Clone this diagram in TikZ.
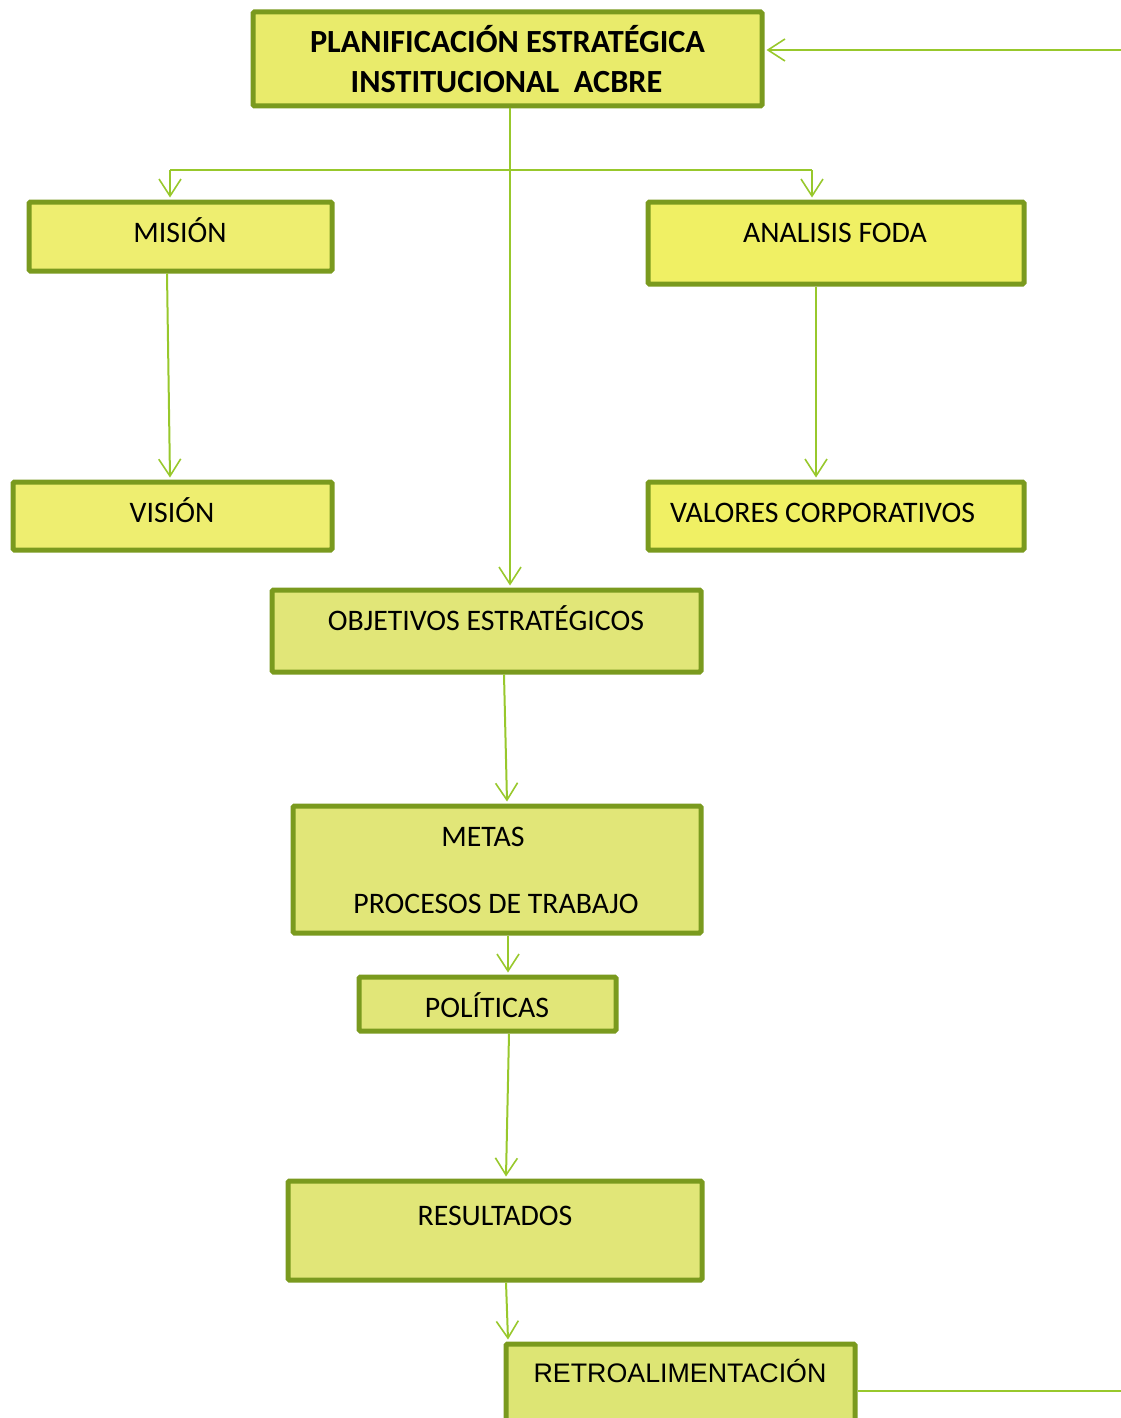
\documentclass[tikz,border=0pt]{standalone}
\usepackage{fontspec}
\setmainfont{Carlito}
\newfontfamily\arialfont{Liberation Sans}
\usetikzlibrary{arrows.meta,calc}
\definecolor{bordergreen}{RGB}{122,154,30}
\definecolor{linegreen}{RGB}{152,200,44}
\definecolor{filltop}{RGB}{233,235,107}
\definecolor{fillA}{RGB}{238,238,112}
\definecolor{fillB}{RGB}{240,240,100}
\definecolor{fillC}{RGB}{225,230,120}
\definecolor{fillD}{RGB}{221,229,116}
\tikzset{
  box/.style={draw=bordergreen, line width=5pt, rounded corners=1.5pt, inner sep=0pt},
  conn/.style={draw=linegreen, line width=2pt},
  arr/.style={conn, -{Straight Barb[length=17pt,width=22pt,line width=1.6pt]}},
  lbl/.style={anchor=base, inner sep=0pt, font=\fontsize{29.8}{35}\selectfont},
}
\begin{document}
\begin{tikzpicture}[x=1pt,y=-1pt]
\clip (0,0) rectangle (1121,1418);
% boxes
\node[box, fill=filltop, minimum width=509pt, minimum height=94pt] (top) at (507.5,59) {};
\node[box, fill=fillA, minimum width=303pt, minimum height=69pt] (mision) at (180.5,236.5) {};
\node[box, fill=fillB, minimum width=376pt, minimum height=82pt] (foda) at (836,243) {};
\node[box, fill=fillA, minimum width=319pt, minimum height=68pt] (vision) at (172.5,516) {};
\node[box, fill=fillB, minimum width=376pt, minimum height=68pt] (valores) at (836,516) {};
\node[box, fill=fillC, minimum width=429pt, minimum height=82pt] (obj) at (486.5,631) {};
\node[box, fill=fillC, minimum width=408pt, minimum height=127pt] (metas) at (497,869.5) {};
\node[box, fill=fillC, minimum width=257pt, minimum height=54pt] (pol) at (487.5,1004) {};
\node[box, fill=fillC, minimum width=414pt, minimum height=99pt] (res) at (495,1230.5) {};
\node[box, fill=fillD, minimum width=349pt, minimum height=92pt] (retro) at (680.5,1390) {};
% texts
\node[lbl, font=\fontsize{32.3}{38}\selectfont\bfseries] (t1) at (507.5,53) {PLANIFICACIÓN ESTRATÉGICA};
\node[lbl, font=\fontsize{32.3}{38}\selectfont\bfseries] (t2) at (506.5,93) {INSTITUCIONAL\ \ ACBRE};
\node[lbl] (tmision) at (180,242) {MISIÓN};
\node[lbl] (tfoda) at (835,242.5) {ANALISIS FODA};
\node[lbl] (tvision) at (172,522.5) {VISIÓN};
\node[lbl] (tvalores) at (822.5,522.5) {VALORES CORPORATIVOS};
\node[lbl] (tobj) at (486,630.5) {OBJETIVOS ESTRATÉGICOS};
\node[lbl] (tmetas) at (483,846.5) {METAS};
\node[lbl] (tproc) at (496,913.5) {PROCESOS DE TRABAJO};
\node[lbl] (tpol) at (487,1017) {POLÍTICAS};
\node[lbl] (tres) at (495,1225.5) {RESULTADOS};
\node[lbl, font=\fontsize{26.8}{32}\selectfont\arialfont] (tretro) at (680,1382) {RETROALIMENTACIÓN};
% coordinates
\coordinate (xmain) at (510,170);
\coordinate (xl) at (170,170);
\coordinate (xr) at (812,170);
\coordinate (xm) at (167,0);
\coordinate (xv) at (170,0);
\coordinate (xf) at (816,0);
\coordinate (fb1) at (1121,50);
\coordinate (fb2) at (1121,1391);
% connectors
\draw[arr] (top.south -| xmain) -- ($(obj.north -| xmain)+(0,-2)$);
\draw[conn] (xl) -- (xr);
\draw[arr] (xl) -- ($(mision.north -| xl)+(0,-2)$);
\draw[arr] (xr) -- ($(foda.north -| xr)+(0,-2)$);
\draw[arr] (mision.south -| xm) -- ($(vision.north -| xv)+(0,-2)$);
\draw[arr] (foda.south -| xf) -- ($(valores.north -| xf)+(0,-2)$);
\coordinate (o1) at (504,0); \coordinate (o2) at (507,0);
\draw[arr] (obj.south -| o1) -- ($(metas.north -| o2)+(0,-2)$);
\coordinate (m1) at (508,0);
\draw[arr] (metas.south -| m1) -- ($(pol.north -| m1)+(0,-2)$);
\coordinate (p1) at (509,0); \coordinate (p2) at (506,0);
\draw[arr] (pol.south -| p1) -- ($(res.north -| p2)+(0,-2)$);
\coordinate (r1) at (506,0); \coordinate (r2) at (508,0);
\draw[arr] (res.south -| r1) -- ($(retro.north -| r2)+(0,-2)$);
\draw[arr] (fb1) -- ($(top.east |- fb1)+(2,0)$);
\draw[conn] (retro.east |- fb2) -- (fb2);
\end{tikzpicture}
\end{document}
